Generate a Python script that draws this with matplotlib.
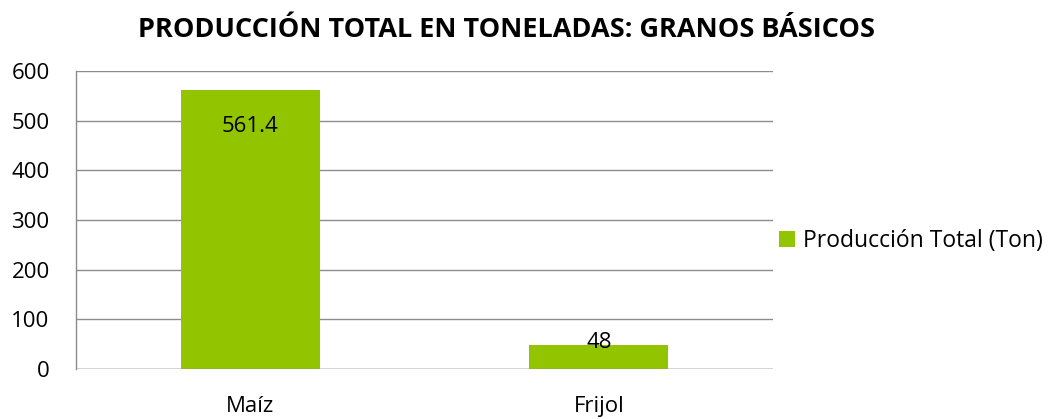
import matplotlib
matplotlib.use("Agg")
import matplotlib.pyplot as plt

categories = ["Maíz", "Frijol"]
values = [561.4, 48]
value_labels = ["561.4", "48"]
series_name = "Producción Total (Ton)"
title = "PRODUCCIÓN TOTAL EN TONELADAS: GRANOS BÁSICOS"
yticks = [0, 100, 200, 300, 400, 500, 600]

plt.rcParams['font.family'] = ['Open Sans', 'DejaVu Sans']

fig = plt.figure(figsize=(10.5, 4.19), dpi=100)
ax = fig.add_axes([0.0724, 0.119, 0.6638, 0.7115])

color = "#92C500"
x = list(range(len(categories)))
bars = ax.bar(x, values, width=0.4, color=color, label=series_name, zorder=3)

ax.set_xlim(-0.5, len(categories) - 0.5)
ax.set_ylim(0, 600)
ax.set_yticks(yticks)
ax.set_yticklabels([str(t) for t in yticks], fontsize=16)
ax.set_xticks(x)
ax.set_xticklabels(categories, fontsize=16)
ax.tick_params(axis='both', length=0)
ax.tick_params(axis='x', pad=19)
ax.tick_params(axis='y', pad=19)

ax.grid(axis='y', color='#8c8c8c', linewidth=1, zorder=0)
for s in ['top', 'right', 'bottom']:
    ax.spines[s].set_visible(False)
ax.spines['left'].set_color('#8c8c8c')
ax.spines['left'].set_linewidth(1)
ax.axhline(0, color='#8c8c8c', linewidth=1, zorder=4)

# labels
offsets = [-26, 2]
for xi, v, lab, off in zip(x, values, value_labels, offsets):
    ax.annotate(lab, xy=(xi, v), xytext=(0, off), textcoords='offset points',
                ha='center', va='center', fontsize=16, zorder=5)

fig.text(0.482, 0.928, title, ha='center', va='center', fontsize=19.5, fontweight='bold')

leg = fig.legend(handles=[bars], labels=[series_name], loc='center left',
                 bbox_to_anchor=(0.742, 0.425), frameon=False, fontsize=16.5,
                 handlelength=0.7, handleheight=0.7, handletextpad=0.35,
                 borderpad=0, borderaxespad=0)

fig.savefig("out.png", dpi=100)
